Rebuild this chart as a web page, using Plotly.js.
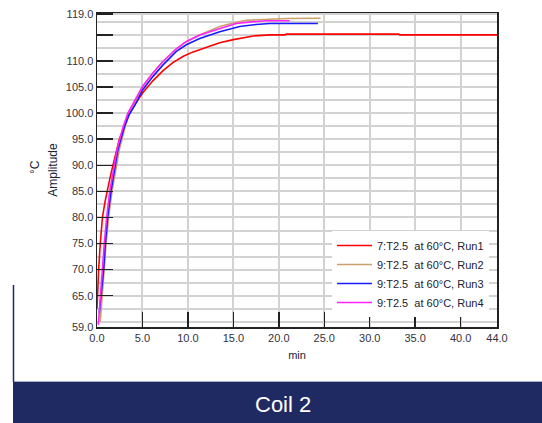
<!DOCTYPE html>
<html>
<head>
<meta charset="utf-8">
<script src="https://cdn.plot.ly/plotly-3.0.1.min.js"></script>
<style>
html,body{margin:0;padding:0;background:#fff;}
#chart{width:542px;height:423px;}
</style>
</head>
<body>
<div id="chart"></div>
<script>
// ---- data ----
const run1T = [0, 0.05, 0.18, 0.36, 0.6, 0.88, 1.1, 1.42, 1.75, 2.1, 2.46, 3.0, 3.55, 4.2, 5.03, 6.14, 7.24, 8.34, 9.5, 10.5, 11.66, 13.5, 15.0, 17.2, 19.0, 20.7, 20.8, 33.2, 33.3, 44.0];
const run1V = [62.5, 65, 70, 75, 80, 83, 85, 87.5, 90, 92.5, 95, 97.5, 100, 101.8, 103.9, 106.2, 108.1, 109.7, 110.9, 111.7, 112.4, 113.5, 114.1, 114.8, 115.0, 115.0, 115.15, 115.15, 115.0, 115.0];

const run2T = [0.36, 0.55, 0.8, 1.0, 1.28, 1.65, 2.15, 2.45, 2.75, 3.1, 3.6, 4.3, 5.0, 6.1, 7.2, 8.7, 9.8, 11.3, 13.5, 15.0, 16.4, 19.0, 21.0, 24.6];
const run2V = [60, 65, 70, 75, 80, 85, 90, 93, 95, 97.5, 100, 102.6, 105.0, 107.6, 109.8, 112.3, 113.7, 115.0, 116.6, 117.3, 117.8, 118.0, 118.15, 118.2];

const run3T = [0.25, 0.44, 0.73, 0.92, 1.17, 1.54, 2.05, 2.3, 2.62, 3.0, 3.5, 4.3, 5.03, 6.14, 7.24, 8.7, 9.82, 11.3, 13.5, 15.7, 17.5, 19.0, 21.0, 24.3];
const run3V = [61.7, 65, 70, 75, 80, 85, 90, 93, 95, 97.3, 99.6, 101.9, 104.5, 107, 109.2, 111.8, 113.1, 114.3, 115.6, 116.6, 117.0, 117.2, 117.2, 117.2];

const run4T = [0.15, 0.36, 0.62, 0.8, 1.06, 1.4, 1.9, 2.2, 2.5, 2.9, 3.4, 4.2, 5.0, 6.1, 7.2, 8.7, 9.8, 11.3, 13.5, 15.3, 17.0, 18.5, 21.2];
const run4V = [59.4, 65, 70, 75, 80, 85, 90, 93, 95, 97.5, 100, 102.6, 105.1, 107.6, 109.8, 112.3, 113.7, 115.0, 116.25, 117.2, 117.5, 117.7, 117.7];

const seriesNames = ["7:T2.5\u00a0 at 60°C, Run1", "9:T2.5\u00a0 at 60°C, Run2", "9:T2.5\u00a0 at 60°C, Run3", "9:T2.5\u00a0 at 60°C, Run4"];
const seriesColors = ["#ff0000", "#c9a06a", "#1a1aff", "#ff22ff"];

const xTickVals = [0, 5, 10, 15, 20, 25, 30, 35, 40, 44];
const xTickText = ["0.0", "5.0", "10.0", "15.0", "20.0", "25.0", "30.0", "35.0", "40.0", "44.0"];
const yTickVals = [59, 65, 70, 75, 80, 85, 90, 95, 100, 105, 110, 115, 119];
const yTickText = ["59.0", "65.0", "70.0", "75.0", "80.0", "85.0", "90.0", "95.0", "100.0", "105.0", "110.0", "", "119.0"];

const xTitle = "min";
const yTitle = "Amplitude";
const yUnit = "°C";
const captionText = "Coil 2";

// ---- chart ----
const xs = [run1T, run2T, run3T, run4T];
const ys = [run1V, run2V, run3V, run4V];
const traces = xs.map((x, i) => ({
  x: x, y: ys[i], type: "scatter", mode: "lines",
  name: seriesNames[i],
  line: {color: seriesColors[i], width: 1.6}
}));

const font = "Liberation Sans, Arial, sans-serif";
const gridColor = "#d2d2d2";
const px = v => (v - 97) / 400;      // page x -> paper x
const py = v => (327 - v) / 314;     // page y -> paper y

const layout = {
  width: 542, height: 423,
  margin: {l: 97, r: 45, t: 13, b: 96},
  paper_bgcolor: "#ffffff", plot_bgcolor: "#ffffff",
  font: {family: font, size: 11, color: "#333340"},
  showlegend: true,
  legend: {
    x: px(332), y: py(231), xanchor: "left", yanchor: "top",
    bgcolor: "#ffffff", borderwidth: 0,
    font: {family: font, size: 11, color: "#222233"},
    tracegroupgap: 0, itemwidth: 35
  },
  xaxis: {
    range: [0, 44], tickmode: "array", tickvals: xTickVals, ticktext: xTickText,
    ticks: "inside", ticklen: 15, tickwidth: 1.5, tickcolor: "#222",
    showgrid: true, gridcolor: gridColor, gridwidth: 2,
    showline: true, linecolor: "#222", linewidth: 1.5, mirror: true,
    zeroline: false,
    tickfont: {family: font, size: 11, color: "#333340"},
    title: {text: xTitle, font: {family: font, size: 11, color: "#222233"}, standoff: 8}
  },
  yaxis: {
    range: [59, 119.2], tickmode: "array", tickvals: yTickVals, ticktext: yTickText,
    ticks: "inside", ticklen: 16, tickwidth: 1.5, tickcolor: "#222",
    showgrid: true, gridcolor: gridColor, gridwidth: 2,
    minor: {tickmode: "linear", tick0: 0, dtick: 2.5, showgrid: true, gridcolor: gridColor, gridwidth: 2, ticks: ""},
    showline: true, linecolor: "#222", linewidth: 1.5, mirror: true,
    zeroline: false,
    tickfont: {family: font, size: 11, color: "#333340"},
    title: {text: yTitle, font: {family: font, size: 12, color: "#222233"}, standoff: 5}
  },
  shapes: [
    {type: "rect", xref: "paper", yref: "paper",
     x0: px(13), x1: px(542), y0: py(424), y1: py(381.5),
     fillcolor: "#1f2a63", line: {width: 0}, layer: "above"},
    {type: "line", xref: "paper", yref: "paper",
     x0: px(13), x1: px(542), y0: py(381.5), y1: py(381.5),
     line: {color: "#a9b0c6", width: 1}},
    {type: "line", xref: "paper", yref: "paper",
     x0: px(13.5), x1: px(13.5), y0: py(285), y1: py(382),
     line: {color: "#1f2a63", width: 1.5}}
  ],
  annotations: [
    {text: yUnit, xref: "paper", yref: "paper", x: px(35), y: py(167),
     xanchor: "center", yanchor: "middle", textangle: -90, showarrow: false,
     font: {family: font, size: 12, color: "#222233"}},
    {text: captionText, xref: "paper", yref: "paper",
     x: px(283), y: py(404), xanchor: "center", yanchor: "middle",
     showarrow: false, font: {family: font, size: 22, color: "#ffffff"}}
  ]
};

Plotly.newPlot("chart", traces, layout, {displayModeBar: false, staticPlot: true});
</script>
</body>
</html>
